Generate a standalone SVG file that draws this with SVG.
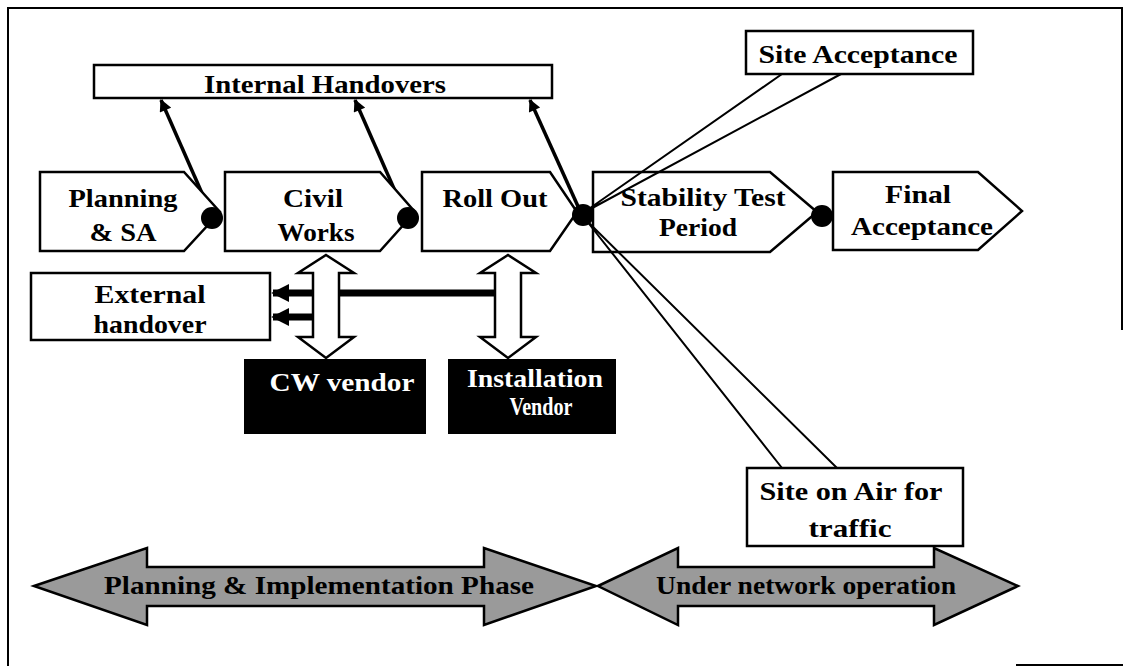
<svg xmlns="http://www.w3.org/2000/svg" width="1123" height="666" viewBox="0 0 1123 666">
  <defs>
    <style>
      .frame { fill: none; stroke: #000; stroke-width: 2; }
      .box { fill: #fff; stroke: #000; stroke-width: 2.5; }
      .dark { fill: #000; stroke: #000; stroke-width: 2; }
      .band { fill: #9a9a9a; stroke: #000; stroke-width: 2.5; }
      .dot { fill: #000; }
      .lbl { font-family: "Liberation Serif", "Times New Roman", serif; font-weight: bold; font-size: 26px; fill: #000; text-anchor: middle; }
      .inv { fill: #fff; }
      .link { stroke: #000; stroke-width: 3.5; fill: none; }
      .bar { stroke: #000; stroke-width: 7; fill: none; }
      .callout { fill: none; stroke: #000; stroke-width: 2; }
    </style>
    <marker id="head" viewBox="0 0 10 10" refX="9" refY="5" markerWidth="4.5" markerHeight="3.5" orient="auto" markerUnits="strokeWidth">
      <path d="M0,0 L10,5 L0,10 z" fill="#000"/>
    </marker>
    <marker id="headBig" viewBox="0 0 10 10" refX="9" refY="5" markerWidth="2.6" markerHeight="3" orient="auto" markerUnits="strokeWidth">
      <path d="M0,0 L10,5 L0,10 z" fill="#000"/>
    </marker>
  </defs>

  <!-- page frame -->
  <g id="frame">
    <path class="frame" d="M7,8 H1123 M8,8 V666 M1122,8 V330"/>
    <path class="frame" d="M1016,665 H1123"/>
  </g>

  <!-- connectors: handover arrows and links to the external box -->
  <g id="connectors">
    <line class="link" x1="212" y1="216" x2="161" y2="100" marker-end="url(#head)"/>
    <line class="link" x1="406" y1="216" x2="355" y2="100" marker-end="url(#head)"/>
    <line class="link" x1="581" y1="213" x2="530" y2="100" marker-end="url(#head)"/>
    <line class="bar" x1="496" y1="293" x2="273" y2="293" marker-end="url(#headBig)"/>
    <line class="bar" x1="314" y1="317" x2="273" y2="317" marker-end="url(#headBig)"/>
  </g>

  <g id="internal-handovers">
    <rect class="box" x="94" y="65" width="458" height="33"/>
    <text class="lbl" x="325" y="93" font-size="24" textLength="242" lengthAdjust="spacingAndGlyphs">Internal Handovers</text>
  </g>

  <g id="site-acceptance">
    <rect class="box" x="746" y="31" width="227" height="43"/>
    <text class="lbl" x="858" y="63" font-size="24" textLength="199" lengthAdjust="spacingAndGlyphs">Site Acceptance</text>
  </g>

  <g id="planning">
    <polygon class="box" points="40,172 184,172 220,212 184,251 40,251"/>
    <text class="lbl" x="123" y="207" textLength="109" lengthAdjust="spacingAndGlyphs">Planning</text>
    <text class="lbl" x="123" y="241" textLength="67" lengthAdjust="spacingAndGlyphs">&amp; SA</text>
  </g>

  <g id="civil-works">
    <polygon class="box" points="225,172 380,172 415,212 380,251 225,251"/>
    <text class="lbl" x="313" y="207" textLength="60" lengthAdjust="spacingAndGlyphs">Civil</text>
    <text class="lbl" x="316" y="241" textLength="77" lengthAdjust="spacingAndGlyphs">Works</text>
  </g>

  <g id="roll-out">
    <polygon class="box" points="422,172 550,172 577,212 550,251 422,251"/>
    <text class="lbl" x="495" y="207" textLength="105" lengthAdjust="spacingAndGlyphs">Roll Out</text>
  </g>

  <g id="stability-test">
    <polygon class="box" points="593,172 770,172 817,212 770,252 593,252"/>
    <text class="lbl" x="703" y="206" textLength="165" lengthAdjust="spacingAndGlyphs">Stability Test</text>
    <text class="lbl" x="698" y="236" textLength="78" lengthAdjust="spacingAndGlyphs">Period</text>
  </g>

  <g id="final-acceptance">
    <polygon class="box" points="833,172 978,172 1022,211 978,250 833,250"/>
    <text class="lbl" x="918" y="203" textLength="66" lengthAdjust="spacingAndGlyphs">Final</text>
    <text class="lbl" x="922" y="235" textLength="142" lengthAdjust="spacingAndGlyphs">Acceptance</text>
  </g>

  <!-- callout pointers from the roll-out milestone -->
  <g id="callouts">
    <polyline class="callout" points="782,74 583,213 841,74"/>
    <polyline class="callout" points="782,468 586,220 837,468"/>
  </g>

  <!-- milestones between phases -->
  <g id="milestones">
    <circle class="dot" cx="212" cy="218" r="11"/>
    <circle class="dot" cx="408" cy="218" r="11"/>
    <circle class="dot" cx="583" cy="215" r="11"/>
    <circle class="dot" cx="822" cy="216" r="11"/>
  </g>

  <g id="external-handover">
    <rect class="box" x="31" y="273" width="239" height="67"/>
    <text class="lbl" x="150" y="303" textLength="111" lengthAdjust="spacingAndGlyphs">External</text>
    <text class="lbl" x="150" y="333" textLength="113" lengthAdjust="spacingAndGlyphs">handover</text>
  </g>

  <!-- two-way links to the vendors -->
  <g id="cw-link">
    <polygon class="box" points="326,255 354,273 339,273 339,337 354,337 326,358 298,337 313,337 313,273 298,273"/>
  </g>
  <g id="installation-link">
    <polygon class="box" points="508,255 536,273 521,273 521,337 536,337 508,358 480,337 495,337 495,273 480,273"/>
  </g>

  <g id="cw-vendor">
    <rect class="dark" x="245" y="360" width="180" height="73"/>
    <text class="lbl inv" x="342" y="391" textLength="145" lengthAdjust="spacingAndGlyphs">CW vendor</text>
  </g>

  <g id="installation-vendor">
    <rect class="dark" x="449" y="360" width="166" height="73"/>
    <text class="lbl inv" x="535" y="387" textLength="136" lengthAdjust="spacingAndGlyphs">Installation</text>
    <text class="lbl inv" x="541" y="415" textLength="63" lengthAdjust="spacingAndGlyphs">Vendor</text>
  </g>

  <g id="site-on-air">
    <rect class="box" x="747" y="468" width="216" height="78"/>
    <text class="lbl" x="851" y="500" textLength="183" lengthAdjust="spacingAndGlyphs">Site on Air for</text>
    <text class="lbl" x="850" y="537" textLength="83" lengthAdjust="spacingAndGlyphs">traffic</text>
  </g>

  <!-- phase bands -->
  <g id="phase-planning">
    <polygon class="band" points="34,586 147,548 147,567 484,567 484,548 596,586 484,625 484,606 147,606 147,625"/>
    <text class="lbl" x="319" y="594" font-size="25" textLength="430" lengthAdjust="spacingAndGlyphs">Planning &amp; Implementation Phase</text>
  </g>
  <g id="phase-operation">
    <polygon class="band" points="598,586 678,548 678,567 934,567 934,548 1018,586 934,625 934,606 678,606 678,625"/>
    <text class="lbl" x="806" y="594" font-size="25" textLength="300" lengthAdjust="spacingAndGlyphs">Under network operation</text>
  </g>
</svg>
